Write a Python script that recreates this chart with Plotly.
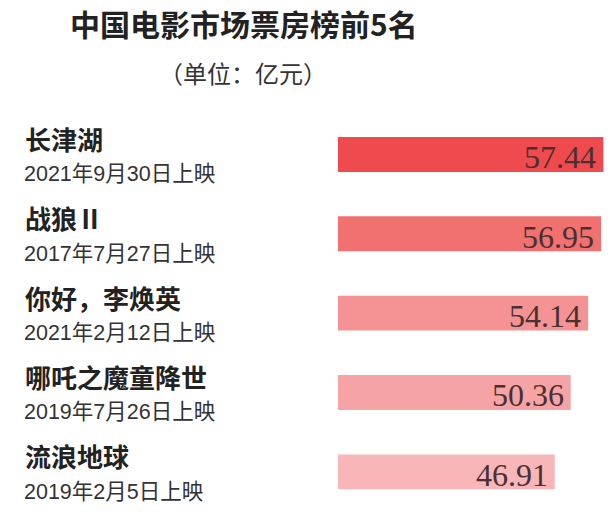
import plotly.graph_objects as go

films = ["长津湖", "战狼Ⅱ", "你好，李焕英", "哪吒之魔童降世", "流浪地球"]
dates = ["2021年9月30日上映", "2017年7月27日上映", "2021年2月12日上映",
         "2019年7月26日上映", "2019年2月5日上映"]
values = [57.44, 56.95, 54.14, 50.36, 46.91]
colors = ["#EF4A4E", "#F17171", "#F49294", "#F6A3A6", "#F8B6B9"]
title = "中国电影市场票房榜前5名"
subtitle = "（单位：亿元）"

W, H = 615, 520
fig = go.Figure()
fig.add_trace(go.Bar(
    x=values, y=films, orientation="h",
    marker=dict(color=colors, line=dict(width=0)),
    width=0.44, hoverinfo="skip",
))

ann = []
for f, d, v in zip(films, dates, values):
    ann.append(dict(x=23 / W, xref="paper", y=f, yref="y", text=f,
                    xanchor="left", yanchor="middle", yshift=16, showarrow=False,
                    font=dict(family="Noto Sans CJK SC", size=26, color="#222222", weight="bold")))
    ann.append(dict(x=22 / W, xref="paper", y=f, yref="y", text=d,
                    xanchor="left", yanchor="middle", yshift=-20, showarrow=False,
                    font=dict(family="Liberation Sans, Noto Sans CJK SC, sans-serif", size=21.5, color="#333333")))
    ann.append(dict(x=v, xref="x", y=f, yref="y", text=f"{v:.2f}",
                    xanchor="right", yanchor="middle", xshift=-5, yshift=-3, showarrow=False,
                    font=dict(family="Liberation Serif", size=32, color="#4A3030")))

ann.append(dict(x=244 / W, xref="paper", y=1 - 23 / H, yref="paper", text=f"<b>{title}</b>",
                xanchor="center", yanchor="middle", showarrow=False,
                font=dict(family="Noto Sans CJK SC", size=30, color="#222222")))
ann.append(dict(x=243 / W, xref="paper", y=1 - 73 / H, yref="paper", text=subtitle,
                xanchor="center", yanchor="middle", showarrow=False,
                font=dict(family="Noto Sans CJK SC", size=24, color="#333333")))

fig.update_layout(
    width=W, height=H,
    margin=dict(l=0, r=0, t=0, b=0),
    paper_bgcolor="white", plot_bgcolor="white",
    showlegend=False,
    xaxis=dict(domain=[338 / W, 1], range=[0, 59.95], visible=False, fixedrange=True),
    yaxis=dict(domain=[1 - 511.5 / H, 1 - 114.8 / H], autorange="reversed",
               visible=False, fixedrange=True),
    annotations=ann,
)
fig.write_html("out.html", config={"displayModeBar": False},
               post_script="document.body.style.margin='0';")
